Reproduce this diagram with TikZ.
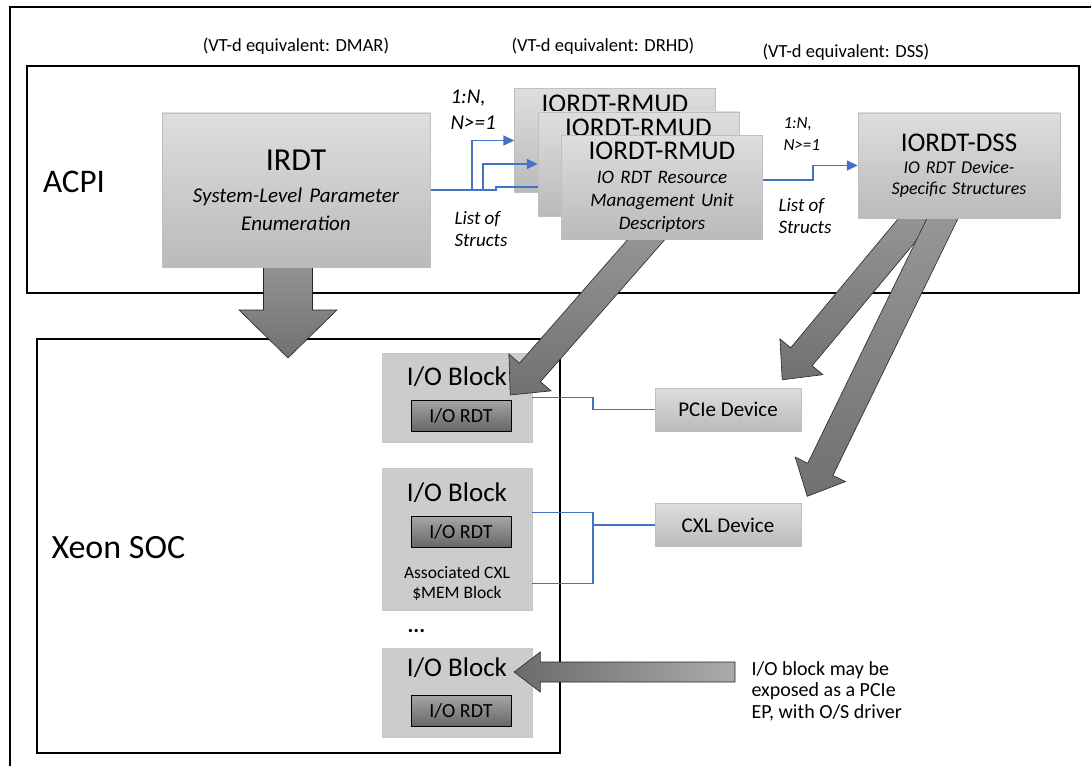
\documentclass[tikz,border=0pt]{standalone}
\usepackage{fontspec}
\setmainfont{Carlito}
\usetikzlibrary{arrows.meta,calc,positioning}
\definecolor{linkblue}{RGB}{68,114,196}
\pgfdeclarelayer{back}
\pgfdeclarelayer{mid}
\pgfsetlayers{back,mid,main}
\newcommand{\fsz}[2]{\fontsize{#1}{#2}\selectfont}
% block arrow: [style]{start}{tip}{half shaft}{half head}{head length}
\newcommand{\fatarrow}[6][]{%
  \path ($(#3)!#6!(#2)$) coordinate (fa base);
  \draw[fat,#1] ($(#2)!#4!90:(#3)$) -- ($(fa base)!#4!90:(#3)$)
    -- ($(fa base)!#5!90:(#3)$) -- (#3) -- ($(fa base)!#5!-90:(#3)$)
    -- ($(fa base)!#4!-90:(#3)$) -- ($(#2)!#4!-90:(#3)$) -- cycle;}
\begin{document}
\begin{tikzpicture}[x=1pt,y=-1pt,
    every node/.style={font=\fsz{20}{24}},
    frame/.style={draw=black,line width=1.4pt},
    gbox/.style={draw=black!25,top color=black!13,bottom color=black!27,
      inner sep=0pt,align=center},
    rmudbox/.style={gbox,minimum width=201pt,minimum height=104pt,
      text width=196pt,font=\fsz{19}{23}},
    iobox/.style={draw=black!22,fill=black!20,minimum width=150pt,
      minimum height=89pt,inner sep=0pt},
    rdt/.style={draw=black,line width=0.8pt,top color=black!35,
      bottom color=black!60,minimum width=100pt,minimum height=31pt,
      inner sep=0pt,font=\fsz{20}{24}},
    iolbl/.style={font=\fsz{27}{30}},
    dev/.style={gbox,minimum width=146pt,minimum height=43pt,font=\fsz{21}{24}},
    lbl/.style={align=left,anchor=west,font=\fsz{19}{22}\itshape},
    hdr/.style={font=\fsz{18.5}{22}},
    link/.style={draw=linkblue,line width=1.6pt},
    blue arrow/.style={link,-{Triangle[length=11pt,width=10pt]}},
    fat/.style={draw=black!85,line width=0.6pt,top color=black!40,
      bottom color=black!56},
    hfat/.style={left color=black!58,right color=black!33}]
  \useasboundingbox (0,0) rectangle (1091,765);
  % frames
  \draw[line width=2.2pt] (10,766) |- (1092,7);
  \draw[frame] (27,66) rectangle (1079,293);
  \draw[frame,line width=1.2pt] (37,339) rectangle (560,753);
  \node[font=\fsz{33}{36}] (acpi) at (74,182) {ACPI};
  \node[font=\fsz{34}{38},anchor=west] (soc) at (48,548) {Xeon SOC};
  \node[hdr] (hdmar) at (296,46) {(VT-d equivalent: DMAR)};
  \node[hdr] (hdrhd) at (603,46) {(VT-d equivalent: DRHD)};
  \node[hdr] (hdss) at (846,52) {(VT-d equivalent: DSS)};
  % SOC side
  \node[iobox] (io1) at (457,397.5) {};
  \node[iolbl] (io1l) at ([yshift=-24pt]io1.north) {I/O Block};
  \node[rdt] (rdt1) at ([xshift=4pt,yshift=-18pt]io1.center) {I/O RDT};
  \node[iobox] (io2) at (457,512.5) {};
  \node[iolbl] (io2l) at ([yshift=-25pt]io2.north) {I/O Block};
  \node[rdt] (rdt2) at ([xshift=4pt,yshift=-19.5pt]io2.center) {I/O RDT};
  \node[iobox,minimum height=53pt,align=center,font=\fsz{17.5}{20.5}] (mem1)
    at (457,583.5) {Associated CXL\\\$MEM Block};
  \node[font=\bfseries\fsz{22}{24},anchor=west] (dots) at (404,631) {...};
  \node[iobox] (io3) at (457,692.5) {};
  \node[iolbl] (io3l) at ([yshift=-20pt]io3.north) {I/O Block};
  \node[rdt] (rdt3) at ([xshift=4pt,yshift=-18.5pt]io3.center) {I/O RDT};
  \node[dev] (pcie) at (728,409.5) {PCIe Device};
  \node[dev] (cxl) at (728,525) {CXL Device};
  \draw[link] (io1.east) -- ++(61,0) |- (pcie.west);
  \draw[link] (io2.east) -- ++(61,0) |- (mem1.east);
  \draw[link] (cxl.west) -- ++(-62,0);
  \node[align=left,anchor=west,font=\fsz{20}{21.5}] (note) at (748,691)
    {I/O block may be\\exposed as a PCIe\\EP, with O/S driver};
  % block arrows
  \coordinate (irdtout) at (288,250);
  \coordinate (socin) at (288,358);
  \coordinate (rmudout) at (659,225);
  \coordinate (io1in) at ([xshift=-22pt,yshift=2.5pt]io1.east);
  \coordinate (dssout1) at (929.5,203);
  \coordinate (pciein) at ([xshift=-19pt,yshift=8pt]pcie.north east);
  \coordinate (dssout2) at (950,203);
  \coordinate (cxlin) at ([xshift=6pt,yshift=7pt]cxl.north east);
  \coordinate (notetail) at (735,672);
  \coordinate (io3in) at ([xshift=-18pt,yshift=20.5pt]io3.east);
  \fatarrow{irdtout}{socin}{24.5pt}{49pt}{48pt}
  \fatarrow{rmudout}{io1in}{14pt}{28pt}{30pt}
  \fatarrow{dssout1}{pciein}{14pt}{28pt}{30pt}
  \fatarrow{dssout2}{cxlin}{14pt}{28pt}{30pt}
  \fatarrow[hfat]{notetail}{io3in}{10pt}{20pt}{26pt}
  % ACPI tables
  \node[gbox,minimum width=268pt,minimum height=154pt,text width=264pt,
    font=\fsz{21}{28}] (irdt) at (296,190)
    {{\fsz{32}{34}IRDT}\\[4pt]\itshape System-Level Parameter\\Enumeration};
  \begin{pgfonlayer}{back}
    \node[rmudbox] (rmud1) at (615,140.5)
      {{\fsz{27}{30}IORDT-RMUD}\\[1pt]\itshape IO RDT Resource\\
       Management Unit\\Descriptors};
    \draw[blue arrow] (irdt.east) -- ++(42,0) |- (rmud1.west);
  \end{pgfonlayer}
  \node[rmudbox] (rmud2) at (638.5,164)
    {{\fsz{27}{30}IORDT-RMUD}\\[1pt]\itshape IO RDT Resource\\
     Management Unit\\Descriptors};
  \node[rmudbox] (rmud3) at (662,187)
    {{\fsz{27}{30}IORDT-RMUD}\\[1pt]\itshape IO RDT Resource\\
     Management Unit\\Descriptors};
  \begin{pgfonlayer}{mid}
    \draw[blue arrow] (irdt.east) -- ++(53,0) |- (rmud2.west);
    \draw[blue arrow] (irdt.east) -- ++(66,0) |- (rmud3.west);
  \end{pgfonlayer}
  \node[gbox,minimum width=202pt,minimum height=105pt,text width=196pt,
    font=\fsz{18}{21}] (dss) at (959,165.5)
    {{\fsz{27}{30}IORDT-DSS}\\[1pt]\itshape IO RDT Device-\\Specific Structures};
  \draw[blue arrow] ([yshift=7pt]rmud3.east) -- ++(50,0) |- (dss.west);
  \node[lbl,font=\fsz{21}{26}\itshape] (card1) at (447,110) {1:N,\\N>=1};
  \node[lbl] (list1) at (451,229) {List of\\Structs};
  \node[lbl,font=\fsz{17}{22}\itshape] (card2) at (780,134) {1:N,\\N>=1};
  \node[lbl] (list2) at (775,216) {List of\\Structs};
\end{tikzpicture}
\end{document}
